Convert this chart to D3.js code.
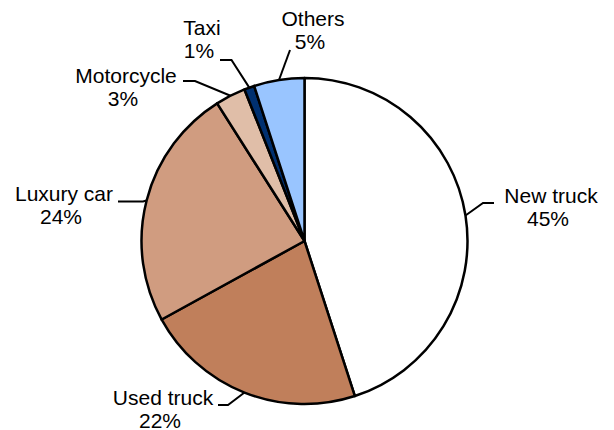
<!DOCTYPE html>
<html>
<head>
<meta charset="utf-8">
<script src="https://cdn.jsdelivr.net/npm/d3@7"></script>
<style>
  html, body { margin: 0; padding: 0; background: #fff; }
  svg { display: block; }
</style>
</head>
<body>
<svg id="chart" width="614" height="430"></svg>
<script>
// Data
var categories = ['New truck', 'Used truck', 'Luxury car', 'Motorcycle', 'Taxi', 'Others'];
var shares = [45, 22, 24, 3, 1, 5];
var colors = ['#ffffff', '#c07f5b', '#d09c80', '#e0bea8', '#003070', '#99c5ff'];

// Label layout: text centre x, first baseline y, elbow and end of leader line
var labelLayout = [
  {x: 551, y: 203, elbow: [483, 203], end: [494, 203]},
  {x: 163, y: 405, elbow: [228, 405], end: [218, 405]},
  {x: 64,  y: 201, elbow: [143, 201.5], end: [118, 201.5]},
  {x: 126, y: 83,  elbow: [195, 81], end: [183, 81]},
  {x: 202, y: 35,  elbow: [231.5, 60], end: [220, 60]},
  {x: 313, y: 26,  elbow: [290, 50], end: [290, 50]}
];

var svg = d3.select('#chart');
var cx = 304.5, cy = 241, radius = 163;

var data = categories.map(function(c, i) { return {name: c, value: shares[i], color: colors[i]}; });

var pie = d3.pie()
  .sort(null)
  .value(function(d) { return d.value; });

var arc = d3.arc()
  .innerRadius(0)
  .outerRadius(radius);

var arcs = pie(data);

var g = svg.append('g').attr('transform', 'translate(' + cx + ',' + cy + ')');

g.selectAll('path.slice')
  .data(arcs)
  .enter().append('path')
  .attr('class', 'slice')
  .attr('d', arc)
  .attr('fill', function(d) { return d.data.color; })
  .attr('stroke', '#000')
  .attr('stroke-width', 2.5)
  .attr('stroke-linejoin', 'round');

// leader lines from the rim at the slice mid-angle
var rim = d3.arc().innerRadius(radius).outerRadius(radius);

svg.selectAll('polyline.leader')
  .data(arcs)
  .enter().append('polyline')
  .attr('class', 'leader')
  .attr('points', function(d, i) {
    var p = rim.centroid(d);
    var L = labelLayout[i];
    return [[cx + p[0], cy + p[1]], L.elbow, L.end].map(function(q) { return q.join(','); }).join(' ');
  })
  .attr('fill', 'none')
  .attr('stroke', '#000')
  .attr('stroke-width', 2);

var labels = svg.selectAll('text.lbl')
  .data(arcs)
  .enter().append('text')
  .attr('class', 'lbl')
  .attr('font-family', 'Liberation Sans, Arial, sans-serif')
  .attr('font-size', 21)
  .attr('fill', '#000')
  .attr('text-anchor', 'middle');

labels.append('tspan')
  .attr('x', function(d, i) { return labelLayout[i].x; })
  .attr('y', function(d, i) { return labelLayout[i].y; })
  .text(function(d) { return d.data.name; });

labels.append('tspan')
  .attr('x', function(d, i) { return labelLayout[i].x - 3; })
  .attr('y', function(d, i) { return labelLayout[i].y + 22.5; })
  .text(function(d) { return d.data.value + '%'; });
</script>
</body>
</html>
